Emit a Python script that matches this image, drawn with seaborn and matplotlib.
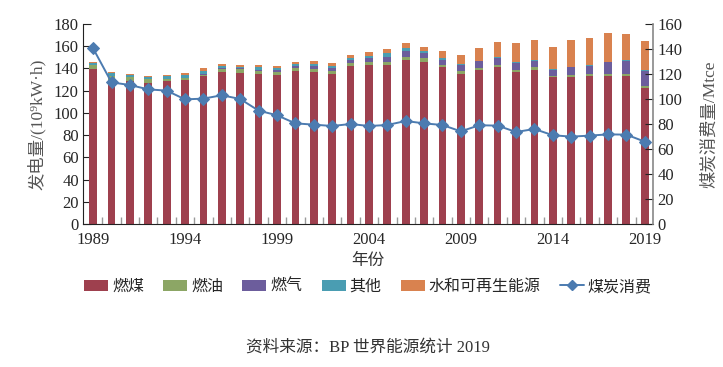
import numpy as np
import pandas as pd
import matplotlib
matplotlib.use("Agg")
import matplotlib.pyplot as plt
from matplotlib.patches import Patch
from matplotlib.lines import Line2D
import seaborn as sns

years = list(range(1989, 2020))
coal = [139.5, 130, 129, 126.5, 128.5, 129.5, 133, 136.5, 135.5, 135, 134.5, 137.5, 136.5, 135, 142,
        143, 143.5, 148, 146, 141, 135, 138.5, 141.5, 137, 139, 132, 132.5, 133, 133, 133, 122.5]
oil = [4, 3, 3, 4, 2, 1.5, 1.5, 3, 4, 2.5, 2.5, 2.5, 3, 3, 2.5,
       2.5, 2.5, 2, 3, 2, 3, 2, 2, 1.5, 2, 1.5, 2, 2, 2, 2, 1.5]
gas = [0, 0, 0, 0, 0, 0.5, 0.5, 0.5, 0.5, 1.5, 1.5, 2, 2.5, 2.5, 3,
       3.5, 4.5, 6, 5, 5, 5, 6, 6, 6.5, 6, 5.5, 6.5, 7.5, 10.5, 12, 14]
other = [1, 2.5, 2, 2, 3, 3, 2.5, 2, 1.5, 2, 2, 2, 2, 2, 2,
         2, 3, 2, 1.5, 1, 1, 0.5, 0.5, 0.5, 0.5, 0.5, 0.5, 0.5, 0.5, 0.5, 0.5]
hydro = [1, 1, 0.7, 0.7, 0.5, 1.1, 2.5, 2, 1.5, 2, 1.7, 1.5, 2.7, 2.1, 2.5,
         3.5, 3.7, 4.6, 4.1, 6.7, 8, 11, 13.5, 17.1, 18.1, 19.8, 24.1, 24, 25.6, 23.2, 26.2]
coal_use = [140.5, 113.3, 111.2, 107.7, 106.7, 99.7, 100.3, 103, 100, 90.7, 87, 80.5, 79.5, 78.4, 80,
            78.4, 79.2, 82.4, 80.5, 79.2, 74.1, 79, 78.7, 73.6, 76, 71, 69.9, 70.7, 71.7, 71.5, 65.9]

series_names = ["燃煤", "燃油", "燃气", "其他", "水和可再生能源"]
line_name = "煤炭消费"
colors = ["#9E404E", "#8CA665", "#6C5D9C", "#4A9DB2", "#D9824F"]
line_color = "#4C7BB0"

sns.set_style("ticks")
plt.rcParams['font.family'] = ['Liberation Serif', 'Noto Sans CJK SC', 'DejaVu Sans']

df = pd.DataFrame({"year": years, "coal": coal, "oil": oil, "gas": gas,
                   "other": other, "hydro": hydro, "use": coal_use})
stack = np.cumsum(np.array([coal, oil, gas, other, hydro]), axis=0)

fig = plt.figure(figsize=(7.23, 3.67), dpi=100)
ax = fig.add_axes([83/723, 1-224/367, 570/723, 200/367])

for i in range(4, -1, -1):
    sns.barplot(x=df["year"], y=stack[i], color=colors[i], width=0.42, native_scale=True,
                saturation=1, linewidth=0, ax=ax, errorbar=None)

ax2 = ax.twinx()
sns.lineplot(x=df["year"], y=df["use"], ax=ax2, color=line_color, marker="D",
             markersize=6, markeredgecolor=line_color, linewidth=1.4)

ax.set_xlim(1988.45, 2019.45)
ax.set_ylim(0, 180)
ax2.set_ylim(0, 160)
ax.set_yticks(range(0, 181, 20))
ax2.set_yticks(range(0, 161, 20))
ax.set_xticks(years[::5])
ax.set_xticklabels([str(y) for y in years[::5]])
ax.set_xticks([y + 0.5 for y in years[:-1]], minor=True)

ax.tick_params(axis='x', which='major', length=0, labelsize=12, pad=6)
ax.tick_params(axis='x', which='minor', direction='in', length=5, color='#999999', width=1)
ax.tick_params(axis='y', direction='in', length=6, labelsize=12, pad=3, color='#222222')
ax2.tick_params(axis='y', direction='in', length=6, labelsize=12, pad=3, color='#222222')

for a in (ax, ax2):
    a.spines['top'].set_visible(False)
ax.spines['right'].set_visible(False)
ax2.spines['left'].set_visible(False)
ax2.spines['bottom'].set_visible(False)
ax2.spines['right'].set_color('#888888')
ax2.spines['right'].set_linewidth(1.2)
ax.spines['left'].set_color('#222222')
ax.spines['bottom'].set_color('#222222')

ax.set_xlabel("年份", fontsize=12, labelpad=3, color='#333333')
ax.set_ylabel("发电量/(10⁹kW·h)", fontsize=12.5, color='#555555', labelpad=6)
ax2.set_ylabel("煤炭消费量/Mtce", fontsize=12.5, color='#555555', labelpad=14)

handles = [Patch(facecolor=c, edgecolor='none') for c in colors]
handles.append(Line2D([0], [0], color=line_color, marker="D", markersize=5, linewidth=1.4))
fig.legend(handles, series_names + [line_name], loc='center', bbox_to_anchor=(368/723, 1-287/367),
           ncol=6, frameon=False, fontsize=11.5, handlelength=1.5, handletextpad=0.25,
           columnspacing=1.2, handleheight=0.7)

fig.text(368/723, 1-348/367, "资料来源：BP 世界能源统计 2019", ha='center', va='center', fontsize=12,
         color='#333333')

fig.savefig("out.png", dpi=100)
